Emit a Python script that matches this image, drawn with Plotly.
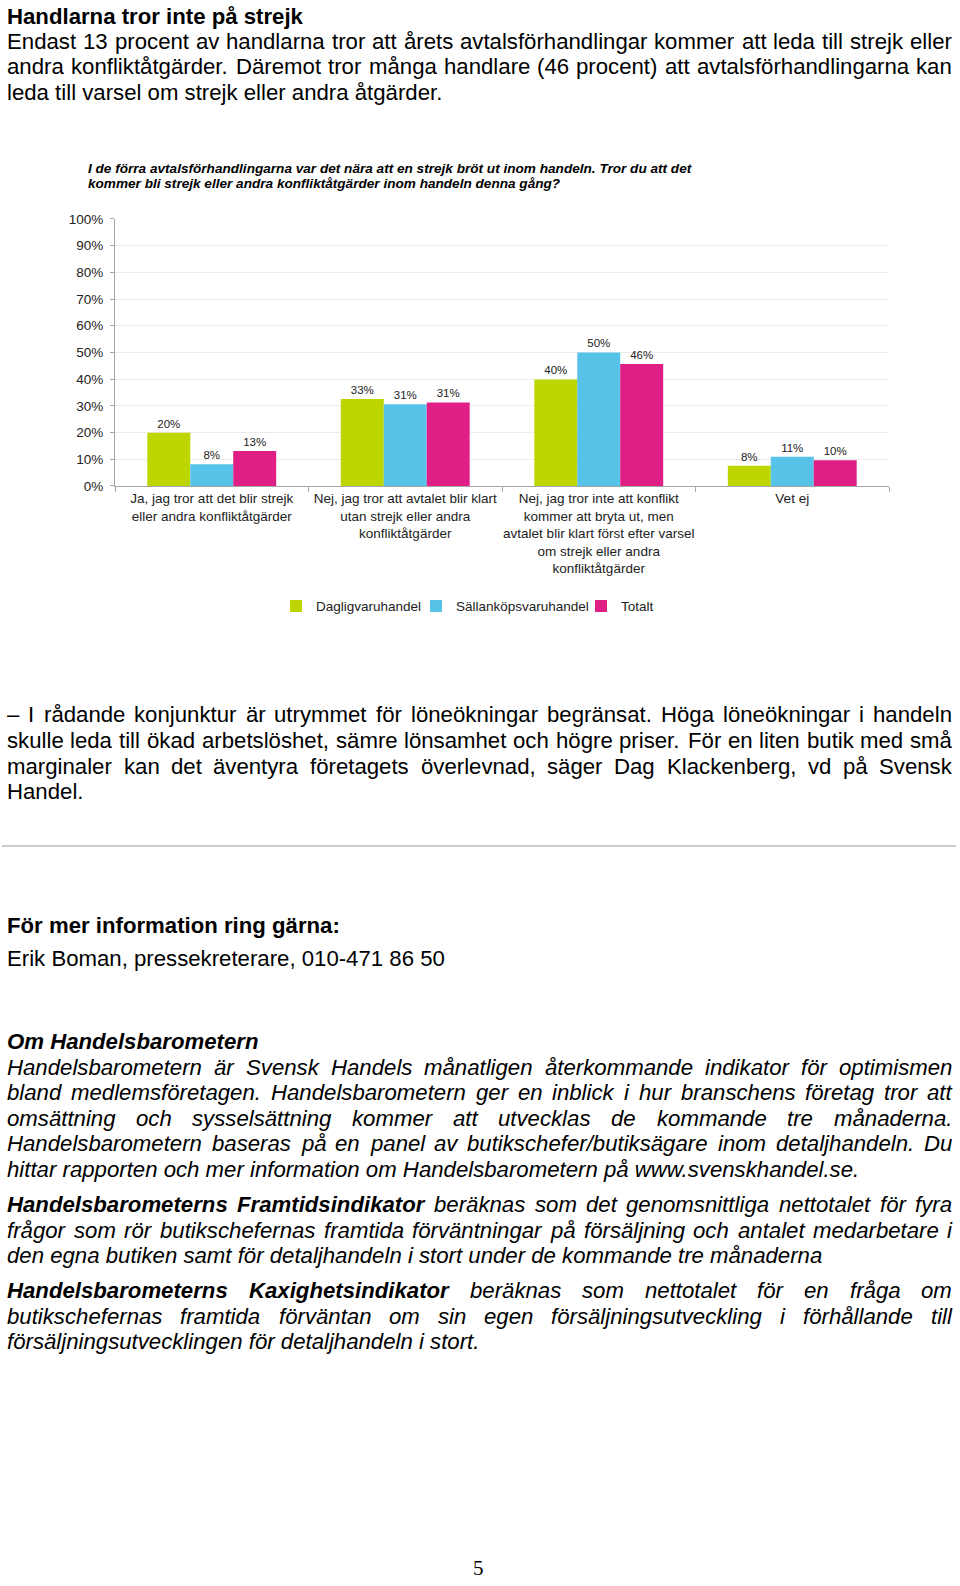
import plotly.graph_objects as go

# ---------------- data ----------------
categories = [
    "Ja, jag tror att det blir strejk<br>eller andra konfliktåtgärder",
    "Nej, jag tror att avtalet blir klart<br>utan strejk eller andra<br>konfliktåtgärder",
    "Nej, jag tror inte att konflikt<br>kommer att bryta ut, men<br>avtalet blir klart först efter varsel<br>om strejk eller andra<br>konfliktåtgärder",
    "Vet ej",
]
series_names = ["Dagligvaruhandel", "Sällanköpsvaruhandel", "Totalt"]
dagligvaruhandel = [19.9, 32.6, 39.9, 7.6]
sallankopsvaruhandel = [8.1, 30.6, 50.0, 10.9]
totalt = [13.1, 31.3, 45.7, 9.6]
y_ticks = [0, 10, 20, 30, 40, 50, 60, 70, 80, 90, 100]
y_tick_labels = [f"{t}%" for t in y_ticks]

colors = ["#bed600", "#58c3e8", "#df1f85"]
legend_widths = [95, 120, None]

W, H = 960, 1586
FONT = "Liberation Sans, Arial, sans-serif"


def px_x(x):
    return x / W


def px_y(y):
    return 1 - y / H


fig = go.Figure()
for name, vals, col, lw in zip(series_names, [dagligvaruhandel, sallankopsvaruhandel, totalt], colors, legend_widths):
    tr = go.Bar(
        x=categories, y=vals, name=name,
        marker=dict(color=col, line=dict(width=0)),
        texttemplate="%{y:.0f}%", textposition="outside",
        outsidetextfont=dict(family=FONT, size=11.5, color="#222222"),
        constraintext="none", cliponaxis=False, hoverinfo="skip",
    )
    if lw:
        tr.legendwidth = lw
    fig.add_trace(tr)

# ---------------- text metrics (Arial / Liberation Sans) ----------------
REG = {' ': 278, '(': 333, ')': 333, ',': 278, '-': 333, '.': 278, '/': 278, ':': 278, '?': 556, '%': 889,
       '–': 556,
       'A': 667, 'B': 667, 'C': 722, 'D': 722, 'E': 667, 'F': 611, 'G': 778, 'H': 722, 'I': 278, 'J': 500,
       'K': 667, 'L': 556, 'M': 833, 'N': 722, 'O': 778, 'P': 667, 'Q': 778, 'R': 722, 'S': 667, 'T': 611,
       'U': 722, 'V': 667, 'W': 944, 'X': 667, 'Y': 667, 'Z': 611,
       'a': 556, 'b': 556, 'c': 500, 'd': 556, 'e': 556, 'f': 278, 'g': 556, 'h': 556, 'i': 222, 'j': 222,
       'k': 500, 'l': 222, 'm': 833, 'n': 556, 'o': 556, 'p': 556, 'q': 556, 'r': 333, 's': 500, 't': 278,
       'u': 556, 'v': 500, 'w': 722, 'x': 500, 'y': 500, 'z': 500, 'å': 556, 'ä': 556, 'ö': 556}
for d in "0123456789":
    REG[d] = 556
BOLD = dict(REG)
BOLD.update({':': 333, '?': 611, 'A': 722, 'B': 722, 'J': 556, 'K': 722, 'L': 611,
             'b': 611, 'c': 556, 'd': 611, 'f': 333, 'g': 611, 'h': 611, 'i': 278, 'j': 278, 'k': 556,
             'l': 278, 'm': 889, 'n': 611, 'o': 611, 'p': 611, 'q': 611, 'r': 389, 's': 556, 't': 333,
             'u': 611, 'v': 556, 'w': 778, 'x': 556, 'y': 556, 'ö': 611})


def width(s, size, bold):
    tab = BOLD if bold else REG
    return sum(tab.get(c, 556) for c in s) * size / 1000.0


def styled(s, bold, italic):
    if italic:
        s = f"<i>{s}</i>"
    if bold:
        s = f"<b>{s}</b>"
    return s


annotations = []
LEFT, RIGHT = 6, 951
BODY = 22.2
STEP = 25.8


def add_text(x, y, text, size, color="#000000", family=FONT, xanchor="left"):
    annotations.append(dict(
        x=px_x(x), y=px_y(y), xref="paper", yref="paper", text=text, showarrow=False,
        xanchor=xanchor, yanchor="middle", align="left", borderpad=0,
        font=dict(family=family, size=size, color=color)))


def add_line(segments, y, size=BODY, justify=False):
    """segments: list of (text, bold, italic)"""
    if not justify:
        add_text(LEFT, y, "".join(styled(t, b, i) for t, b, i in segments), size)
        return
    words = []
    for t, b, i in segments:
        for w in t.split():
            words.append((w, b, i))
    total = sum(width(w, size, b) for w, b, i in words)
    gap = (RIGHT - LEFT - total) / (len(words) - 1)
    x = LEFT
    for w, b, i in words:
        add_text(x, y, styled(w, b, i), size)
        x += width(w, size, b) + gap


def paragraph(lines, y0, step=STEP, bold=False, italic=False, size=BODY):
    for k, ln in enumerate(lines):
        segs = ln if isinstance(ln, list) else [(ln, bold, italic)]
        add_line(segs, y0 + k * step, size=size, justify=(k < len(lines) - 1))


# heading and intro
add_line([("Handlarna tror inte på strejk", True, False)], 9.5)
paragraph([
    "Endast 13 procent av handlarna tror att årets avtalsförhandlingar kommer att leda till strejk eller",
    "andra konfliktåtgärder. Däremot tror många handlare (46 procent) att avtalsförhandlingarna kan",
    "leda till varsel om strejk eller andra åtgärder.",
], 34.5)

# chart title
add_text(87, 163, "<b><i>I de förra avtalsförhandlingarna var det nära att en strejk bröt ut inom handeln. Tror du att det</i></b>", 13.6)
add_text(87, 178.5, "<b><i>kommer bli strejk eller andra konfliktåtgärder inom handeln denna gång?</i></b>", 13.6)

# quote
paragraph([
    "– I rådande konjunktur är utrymmet för löneökningar begränsat. Höga löneökningar i handeln",
    "skulle leda till ökad arbetslöshet, sämre lönsamhet och högre priser. För en liten butik med små",
    "marginaler kan det äventyra företagets överlevnad, säger Dag Klackenberg, vd på Svensk",
    "Handel.",
], 714.7)

add_line([("För mer information ring gärna:", True, False)], 927)
add_line([("Erik Boman, pressekreterare, 010-471 86 50", False, False)], 961)

add_line([("Om Handelsbarometern", True, True)], 1044.6)
paragraph([
    "Handelsbarometern är Svensk Handels månatligen återkommande indikator för optimismen",
    "bland medlemsföretagen. Handelsbarometern ger en inblick i hur branschens företag tror att",
    "omsättning och sysselsättning kommer att utvecklas de kommande tre månaderna.",
    "Handelsbarometern baseras på en panel av butikschefer/butiksägare inom detaljhandeln. Du",
    "hittar rapporten och mer information om Handelsbarometern på www.svenskhandel.se.",
], 1070.2, italic=True)

paragraph([
    [("Handelsbarometerns Framtidsindikator", True, True),
     (" beräknas som det genomsnittliga nettotalet för fyra", False, True)],
    "frågor som rör butikschefernas framtida förväntningar på försäljning och antalet medarbetare i",
    "den egna butiken samt för detaljhandeln i stort under de kommande tre månaderna",
], 1209.1, italic=True)

paragraph([
    [("Handelsbarometerns Kaxighetsindikator", True, True),
     (" beräknas som nettotalet för en fråga om", False, True)],
    "butikschefernas framtida förväntan om sin egen försäljningsutveckling i förhållande till",
    "försäljningsutvecklingen för detaljhandeln i stort.",
], 1296, italic=True)

# page number
add_text(478, 1576, "5", 21, family="Liberation Serif, Times New Roman, serif", xanchor="center")

axis_col = "#a6a6a6"
fig.update_layout(
    width=W, height=H,
    margin=dict(l=0, r=0, t=0, b=0),
    paper_bgcolor="white", plot_bgcolor="white",
    barmode="group", bargap=0.334, bargroupgap=0,
    font=dict(family=FONT, color="#222222"),
    hovermode=False,
    showlegend=True,
    legend=dict(orientation="h", x=px_x(276), xanchor="left", y=px_y(605), yanchor="middle",
                font=dict(family=FONT, size=13.5, color="#222222"), itemwidth=30,
                bgcolor="rgba(0,0,0,0)", borderwidth=0),
    xaxis=dict(domain=[px_x(115), px_x(889)], showline=True, linecolor=axis_col, linewidth=1,
               ticks="outside", tickson="boundaries", ticklen=5, tickcolor=axis_col, tickangle=0,
               tickfont=dict(family=FONT, size=13.5, color="#222222"), showgrid=False),
    yaxis=dict(domain=[px_y(483.5), px_y(214)], range=[0, 100], tickvals=y_ticks, ticktext=y_tick_labels,
               showline=True, linecolor=axis_col, linewidth=1, ticks="outside", ticklen=4,
               tickcolor=axis_col, showgrid=True, gridcolor="#ececec", gridwidth=1, zeroline=False,
               tickfont=dict(family=FONT, size=13.5, color="#222222"), ticklabelstandoff=4),
    annotations=annotations,
    shapes=[dict(type="line", xref="paper", yref="paper", x0=px_x(2), x1=px_x(956),
                 y0=px_y(847), y1=px_y(847), line=dict(color="#cccccc", width=2))],
)

# the page itself has no margin round the figure
fig.write_html("out.html", config={"displayModeBar": False, "staticPlot": True},
               post_script="document.body.style.margin='0px';")
